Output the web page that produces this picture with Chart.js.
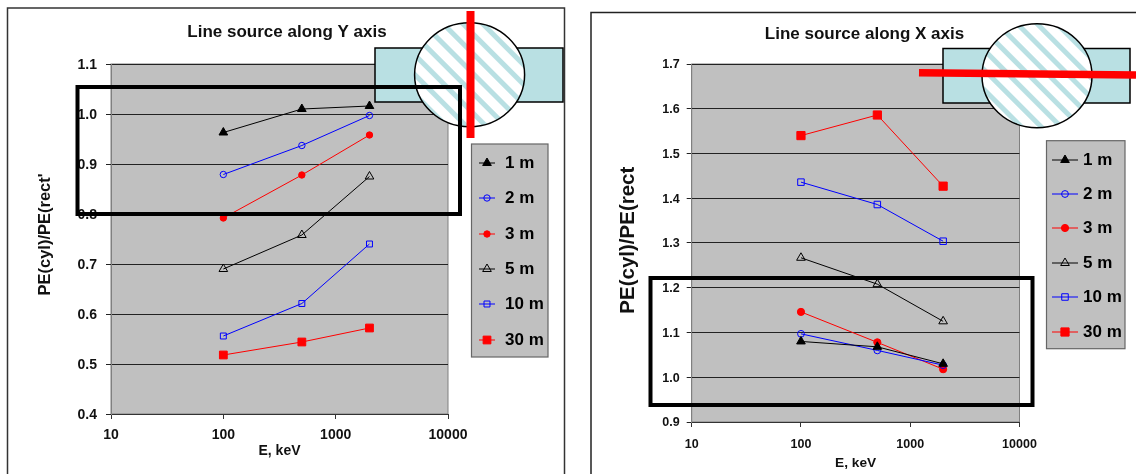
<!DOCTYPE html>
<html>
<head>
<meta charset="utf-8">
<title>PE(cyl)/PE(rect)</title>
<script src="https://cdn.jsdelivr.net/npm/chart.js@4"></script>
<style>
    html, body { margin: 0; padding: 0; background: #fff; overflow: hidden; }
    #page { position: relative; width: 1136px; height: 474px; overflow: hidden; }
    canvas { position: absolute; top: 0; }
    svg { position: absolute; left: 0; top: 0; }
</style>
</head>
<body>
<div id="page">
    <canvas id="chartY" width="574" height="474" style="left:0;width:574px;height:474px"></canvas>
    <canvas id="chartX" width="543" height="474" style="left:593px;width:543px;height:474px"></canvas>
    <svg width="1136" height="474">
        <defs>
            <pattern id="hatch" width="14" height="14" patternUnits="userSpaceOnUse" patternTransform="rotate(-45)">
                <rect width="14" height="14" fill="#fff"></rect>
                <rect width="5" height="14" fill="#b9e0e3"></rect>
            </pattern>
        </defs>
        <!-- panel outlines -->
        <rect x="7.5" y="8" width="557" height="480" fill="none" stroke="#333" stroke-width="1.5"></rect>
        <rect x="591" y="12.5" width="560" height="480" fill="none" stroke="#222" stroke-width="1.5"></rect>
        <!-- left sketch -->
        <rect x="375" y="48" width="188" height="54" fill="#b9e0e3" stroke="#000" stroke-width="1.5"></rect>
        <ellipse cx="469.6" cy="74.7" rx="55" ry="52" fill="url(#hatch)" stroke="#000" stroke-width="1.5"></ellipse>
        <line x1="470.5" y1="11" x2="470.5" y2="138" stroke="#f00" stroke-width="8"></line>
        <rect x="77.5" y="87" width="382.5" height="127" fill="none" stroke="#000" stroke-width="4"></rect>
        <!-- right sketch -->
        <rect x="943" y="48.5" width="187" height="54.5" fill="#b9e0e3" stroke="#000" stroke-width="1.5"></rect>
        <ellipse cx="1037" cy="75.7" rx="55" ry="52" fill="url(#hatch)" stroke="#000" stroke-width="1.5"></ellipse>
        <line x1="919" y1="72.7" x2="1136" y2="75" stroke="#f00" stroke-width="7.5"></line>
        <rect x="650.5" y="278" width="382" height="127" fill="none" stroke="#000" stroke-width="4"></rect>
    </svg>
</div>
<script>
const seriesNames = ['1 m', '2 m', '3 m', '5 m', '10 m', '30 m'];
const energies = [100, 500, 2000];
const xTicks = [10, 100, 1000, 10000];

const alongY1m = [0.963, 1.010, 1.016];
const alongY2m = [0.879, 0.937, 0.997];
const alongY3m = [0.792, 0.878, 0.958];
const alongY5m = [0.690, 0.758, 0.875];
const alongY10m = [0.556, 0.621, 0.740];
const alongY30m = [0.518, 0.544, 0.572];

const alongX1m = [1.080, 1.068, 1.030];
const alongX2m = [1.097, 1.060, 1.027];
const alongX3m = [1.146, 1.078, 1.018];
const alongX5m = [1.267, 1.208, 1.125];
const alongX10m = [1.436, 1.386, 1.304];
const alongX30m = [1.540, 1.586, 1.427];

const lineColors = ['#000', '#00f', '#f00', '#000', '#00f', '#f00'];
const pointShapes = ['triangle', 'circle', 'circle', 'triangle', 'rect', 'rect'];
const pointFills = ['#000', 'transparent', '#f00', 'transparent', 'transparent', '#f00'];

const fontName = '"Liberation Sans", Arial, sans-serif';

// grey plot background and the legend box with line + marker samples
const panelPlugin = {
    id: 'panel',
    afterLayout(chart) {
        // title sits in the middle of the whole canvas, not of the plot
        chart.titleBlock.left = 0;
        chart.titleBlock.right = chart.width;
    },
    beforeDraw(chart) {
        const a = chart.chartArea;
        const ctx = chart.ctx;
        ctx.save();
        ctx.fillStyle = '#c0c0c0';
        ctx.fillRect(a.left, a.top, a.right - a.left, a.bottom - a.top);
        ctx.strokeStyle = '#808080';
        ctx.lineWidth = 1;
        ctx.strokeRect(a.left, a.top, a.right - a.left, a.bottom - a.top);
        ctx.restore();
    },
    afterDraw(chart, args, opts) {
        const ctx = chart.ctx;
        const box = opts.box;
        ctx.save();
        ctx.fillStyle = '#c0c0c0';
        ctx.strokeStyle = '#666';
        ctx.lineWidth = 1.2;
        ctx.fillRect(box.x, box.y, box.w, box.h);
        ctx.strokeRect(box.x, box.y, box.w, box.h);
        ctx.font = 'bold ' + opts.fontSize + 'px ' + fontName;
        ctx.textBaseline = 'middle';
        chart.data.datasets.forEach((ds, i) => {
            const y = opts.rows[i];
            ctx.strokeStyle = ds.borderColor;
            ctx.lineWidth = 1;
            ctx.beginPath();
            ctx.moveTo(opts.lineFrom, y);
            ctx.lineTo(opts.lineTo, y);
            ctx.stroke();
            ctx.fillStyle = ds.pointBackgroundColor;
            ctx.strokeStyle = ds.borderColor;
            Chart.helpers.drawPoint(ctx, { pointStyle: ds.pointStyle, radius: ds.pointRadius, borderWidth: 1, rotation: 0 }, (opts.lineFrom + opts.lineTo) / 2, y);
            ctx.fillStyle = '#000';
            ctx.textAlign = 'left';
            ctx.fillText(ds.label, opts.textX, y + 0.5);
        });
        ctx.restore();
    }
};

function makeChart(id, cfg) {
    const ctx = document.getElementById(id).getContext('2d');
    const datasets = cfg.series.map((values, i) => ({
        label: seriesNames[i],
        data: energies.map((e, j) => ({ x: e, y: values[j] })),
        borderColor: lineColors[i],
        borderWidth: 1,
        pointStyle: pointShapes[i],
        pointRadius: cfg.radii[i],
        pointBackgroundColor: pointFills[i],
        pointBorderColor: lineColors[i],
        pointBorderWidth: 1,
        tension: 0
    }));
    return new Chart(ctx, {
        type: 'line',
        data: { datasets: datasets },
        plugins: [panelPlugin],
        options: {
            responsive: false,
            animation: false,
            layout: { padding: { right: cfg.plot.rightPad } },
            scales: {
                x: {
                    type: 'logarithmic',
                    min: 10,
                    max: 10000,
                    afterBuildTicks: s => { s.ticks = xTicks.map(v => ({ value: v })); },
                    afterFit: s => { s.height = 474 - cfg.plot.bottom; },
                    grid: { drawOnChartArea: false, color: '#333', tickLength: 5 },
                    border: { color: '#333' },
                    ticks: {
                        autoSkip: false,
                        maxRotation: 0,
                        padding: cfg.xTickPad,
                        color: '#111',
                        font: { family: fontName, weight: 'bold', size: cfg.xTickSize },
                        callback: v => String(v)
                    },
                    title: {
                        display: true,
                        text: 'E, keV',
                        color: '#111',
                        font: { family: fontName, weight: 'bold', size: cfg.xTitleSize },
                        padding: { top: 0, bottom: cfg.xTitlePad }
                    }
                },
                y: {
                    min: cfg.yMin,
                    max: cfg.yMax,
                    afterFit: s => { s.width = cfg.plot.left; },
                    grid: { color: '#222', lineWidth: 1, tickLength: 5 },
                    border: { color: '#808080' },
                    ticks: {
                        stepSize: 0.1,
                        padding: cfg.yTickPad,
                        labelOffset: 1,
                        color: '#111',
                        font: { family: fontName, weight: 'bold', size: cfg.yTickSize },
                        callback: v => v.toFixed(1)
                    },
                    title: {
                        display: true,
                        text: cfg.yTitle,
                        color: '#111',
                        font: { family: fontName, weight: 'bold', size: cfg.yTitleSize },
                        padding: { top: cfg.yTitlePad, bottom: 0 }
                    }
                }
            },
            plugins: {
                legend: { display: false },
                tooltip: { enabled: false },
                title: {
                    display: true,
                    text: cfg.title,
                    color: '#111',
                    font: { family: fontName, weight: 'bold', size: 17, lineHeight: 1.2 },
                    padding: cfg.titlePad
                },
                panel: cfg.legend
            }
        }
    });
}

makeChart('chartY', {
    series: [alongY1m, alongY2m, alongY3m, alongY5m, alongY10m, alongY30m],
    radii: [5, 3.2, 3.2, 5, 4.2, 5.5],
    yMin: 0.4,
    yMax: 1.1,
    title: 'Line source along Y axis',
    titlePad: { top: 21.8, bottom: 21.8 },
    yTitle: "  PE(cyl)/PE(rect'",
    yTitleSize: 16.5,
    yTitlePad: 36,
    yTickSize: 14,
    yTickPad: 9,
    xTickSize: 14,
    xTickPad: 8,
    xTitleSize: 14,
    xTitlePad: 14,
    plot: { left: 111, bottom: 414, rightPad: 126 },
    legend: {
        box: { x: 471.5, y: 144, w: 76.5, h: 213 },
        rows: [163, 198, 234, 269, 304, 340],
        lineFrom: 479,
        lineTo: 495,
        textX: 505,
        fontSize: 17
    }
});

makeChart('chartX', {
    series: [alongX1m, alongX2m, alongX3m, alongX5m, alongX10m, alongX30m],
    radii: [5, 3.4, 3.6, 5, 4.6, 5.8],
    yMin: 0.9,
    yMax: 1.7,
    title: 'Line source along X axis',
    titlePad: { top: 23.8, bottom: 19.8 },
    yTitle: ' PE(cyl)/PE(rect',
    yTitleSize: 20.5,
    yTitlePad: 23,
    yTickSize: 12.5,
    yTickPad: 7,
    xTickSize: 12.5,
    xTickPad: 10,
    xTitleSize: 13.7,
    xTitlePad: 2.8,
    plot: { left: 98.7, bottom: 422, rightPad: 116.5 },
    legend: {
        box: { x: 453.5, y: 140.7, w: 78.5, h: 208 },
        rows: [160, 194, 228, 263, 297, 332],
        lineFrom: 459,
        lineTo: 485,
        textX: 490,
        fontSize: 17
    }
});
</script>
</body>
</html>
